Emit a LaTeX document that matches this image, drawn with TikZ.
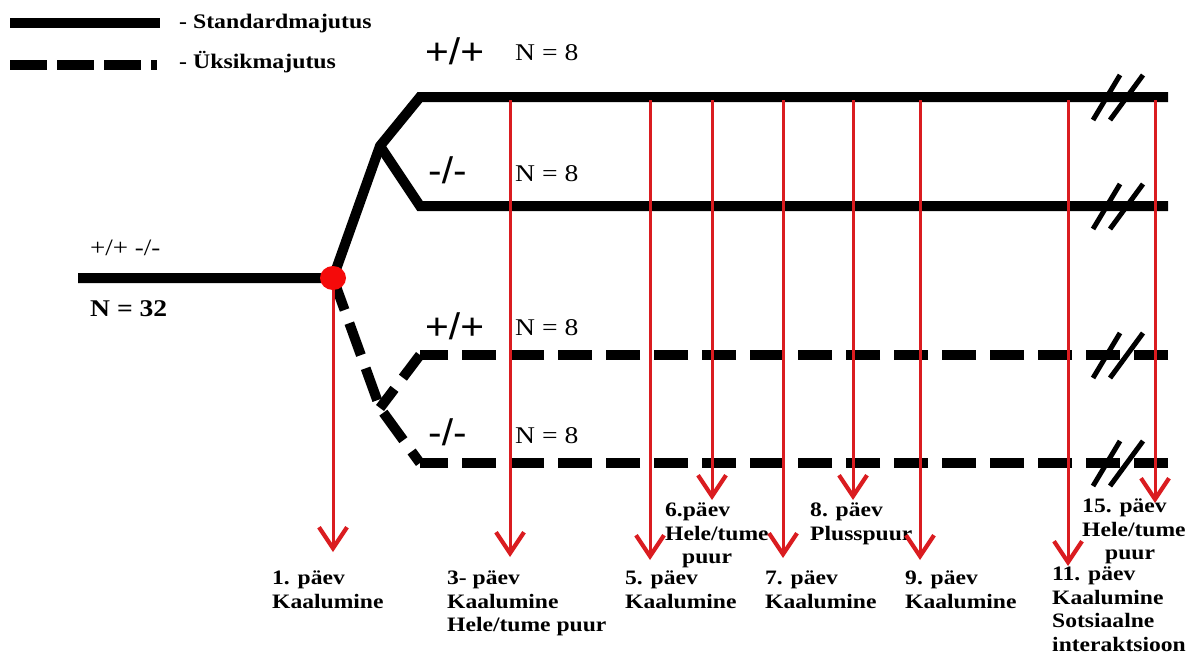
\documentclass[tikz,border=0pt]{standalone}
\usepackage{fontspec}
\setmainfont{Liberation Serif}[FakeStretch=1.15]
\newfontfamily\sansf{Liberation Sans}[FakeStretch=1.1]
\usetikzlibrary{arrows.meta}
\definecolor{arrred}{RGB}{218,28,32}
\definecolor{dotred}{RGB}{245,10,10}
\begin{document}
\begin{tikzpicture}[x=1pt,y=-1pt,
  thickline/.style={line width=10pt},
  dashline/.style={line width=10pt,dash pattern=on 34pt off 14pt},
  slash/.style={line width=5pt},
  redarrow/.style={draw=arrred,line width=3pt,-{Straight Barb[length=21pt,width=28pt,line width=4.2pt]}},
  lbl/.style={font=\bfseries\fontsize{20.5}{23.5}\selectfont,align=left,inner sep=0pt,anchor=north west},
  big/.style={font=\sansf\fontsize{37}{39}\selectfont,inner sep=0pt,anchor=base west},
  nn/.style={font=\fontsize{24}{26}\selectfont,inner sep=0pt,anchor=base west},
  legtxt/.style={font=\bfseries\fontsize{20.7}{22}\selectfont,inner sep=0pt,anchor=base west}]
\path[use as bounding box] (0,0) rectangle (1190,654);

% legend
\coordinate (ls1) at (10,23); \coordinate (ls2) at (160,23);
\coordinate (ld1) at (10,65); \coordinate (ld2) at (157,65);
\draw[thickline] (ls1) -- (ls2);
\draw[line width=10pt,dash pattern=on 37pt off 10pt] (ld1) -- (ld2);
\node[legtxt] (legA) at (179,28) {- Standardmajutus};
\node[legtxt] (legB) at (179,68) {- Üksikmajutus};

% key points
\coordinate (start) at (78,278);
\coordinate (split) at (333,278);
\coordinate (jA) at (380,146);
\coordinate (jB) at (380,408);
\coordinate (c1) at (420,97);   \coordinate (e1) at (1168,97);
\coordinate (c2) at (420,206);  \coordinate (e2) at (1168,206);
\coordinate (c3) at (420,355);  \coordinate (e3) at (1168,355);
\coordinate (c4) at (420,463);  \coordinate (e4) at (1168,463);

% solid branches
\draw[thickline] (start) -- (split) -- (jA) -- (c1) -- (e1);
\draw[thickline] (jA) -- (c2) -- (e2);
% dashed branches
\draw[dashline] (split) -- (jB) -- (c4);
\draw[dashline,dash phase=10pt] (jB) -- (c3);
\draw[dashline] (e4) -- (c4);
\draw[dashline] (e3) -- (c3);

% break marks
\foreach \yy in {97,206,355,463}{
  \draw[slash] (1093,\yy+23) -- (1120,\yy-22);
  \draw[slash] (1110,\yy+23) -- (1143,\yy-22);
}

% group labels
\node[font=\fontsize{23.5}{25}\selectfont,inner sep=0pt,anchor=base west] (gall) at (90,255) {+/+ -/-};
\node[font=\bfseries\fontsize{24}{26}\selectfont,inner sep=0pt,anchor=base west] (n32) at (90,316) {N = 32};
\node[big] (g1) at (425,64) {+/+};
\node[big] (g2) at (428,183) {-/-};
\node[big] (g3) at (425,339) {+/+};
\node[big] (g4) at (428,445) {-/-};
\node[nn] (n1) at (515,60) {N = 8};
\node[nn] (n2) at (515,181) {N = 8};
\node[nn] (n3) at (515,335) {N = 8};
\node[nn] (n4) at (515,443) {N = 8};

% day labels
\node[lbl] (d1) at (272,571) {1. päev\\Kaalumine};
\node[lbl] (d3) at (447,571) {3- päev\\Kaalumine\\Hele/tume puur};
\node[lbl] (d5) at (625,571) {5. päev\\Kaalumine};
\node[lbl] (d6) at (665,503) {6.päev\\Hele/tume\\\hspace*{17pt}puur};
\node[lbl] (d7) at (765,571) {7. päev\\Kaalumine};
\node[lbl] (d8) at (810,503) {8. päev\\Plusspuur};
\node[lbl] (d9) at (905,571) {9. päev\\Kaalumine};
\node[lbl] (d11) at (1052,567) {11. päev\\Kaalumine\\Sotsiaalne\\interaktsioon};
\node[lbl] (d15) at (1082,499) {15. päev\\Hele/tume\\\hspace*{23pt}puur};

% arrow start and end points
\coordinate (s3) at (510,100);  \coordinate (t3) at (510,557);
\coordinate (s5) at (650,100);  \coordinate (t5) at (650,560);
\coordinate (s6) at (712,100);  \coordinate (t6) at (712,500);
\coordinate (s7) at (783,100);  \coordinate (t7) at (783,558);
\coordinate (s8) at (853,100);  \coordinate (t8) at (853,500);
\coordinate (s9) at (920,100);  \coordinate (t9) at (920,560);
\coordinate (s11) at (1068,100); \coordinate (t11) at (1068,566);
\coordinate (s15) at (1155,100); \coordinate (t15) at (1155,503);
\coordinate (t1) at (333,552);

\draw[redarrow] (split) -- (t1);
\foreach \k in {3,5,6,7,8,9,11,15}{\draw[redarrow] (s\k) -- (t\k);}

% split dot
\fill[dotred] (split) ellipse[x radius=13pt,y radius=12pt];
\end{tikzpicture}
\end{document}
